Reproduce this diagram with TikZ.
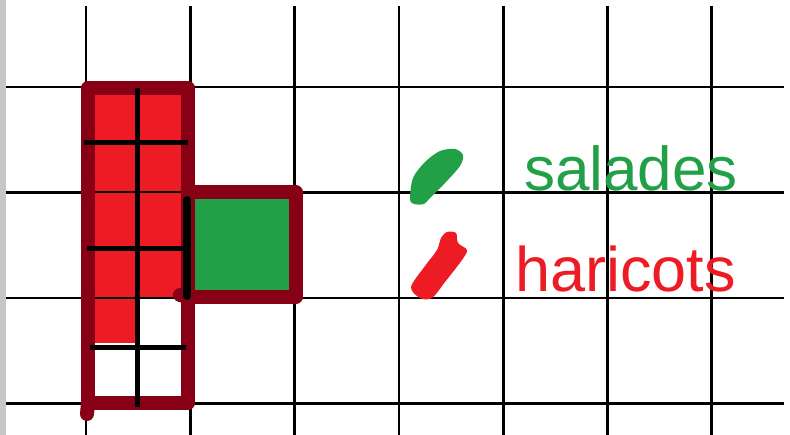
\documentclass[tikz,border=0pt]{standalone}
\usepackage{fontspec}
\setmainfont{Liberation Sans}
\usetikzlibrary{positioning}
\definecolor{bordeaux}{RGB}{136,0,21}
\definecolor{rouge}{RGB}{237,28,36}
\definecolor{vert}{RGB}{34,160,72}

\begin{document}
\begin{tikzpicture}[x=1pt, y=-1pt,
    gridline/.style={black, line width=2.8pt},
    thinline/.style={black, line width=2pt},
    subline/.style={black, line width=5pt},
    border/.style={bordeaux, line width=14pt, line join=round},
    legend/.style={inner sep=0pt, anchor=base west}]

\useasboundingbox (0,0) rectangle (790,435);
\fill[white] (0,0) rectangle (790,435);
\fill[black!22] (0,0) rectangle (6,435);

% Grid
\foreach \x in {86,190.3,294.6,398.9,503.2,607.5,711.8}
  \draw[gridline] (\x,6) -- (\x,435);
\foreach \y in {87,192.5,298,403.5}
  \draw[gridline] (6,\y) -- (784,\y);

% Beans (red) and salads (green)
\fill[rouge] (88,88) rectangle (137,343);
\fill[rouge] (137,88) rectangle (188,298);
\fill[vert] (188,192.5) rectangle (296,297);
\draw[thinline] (92,192.5) -- (184,192.5);
\draw[thinline] (92,298) -- (184,298);

% Border
\draw[border] (88,88) rectangle (188,403);
\draw[border] (188,192.5) rectangle (296,297);
\draw[border, line cap=round] (88,403) -- (87,414);
\draw[border, line cap=round] (188,297) -- (180,295);

% Half squares
\draw[subline] (137,88) -- (137,407);
\draw[subline] (84,143) -- (188,143);
\draw[subline] (87,249) -- (183,249);
\draw[subline] (90,348) -- (186,348);
\draw[black, line width=8pt, line cap=round] (187,200) -- (187,296);

% Legend
\fill[vert] plot[smooth cycle] coordinates
  {(410,199) (413,178) (425,162) (440,151) (455,149) (463,155) (460,166) (445,183) (430,198) (424,204) (414,204)};
\fill[rouge] plot[smooth cycle] coordinates
  {(411,287) (425,266) (437,250) (441,238) (447,232) (456,233) (458,243) (467,250) (462,260) (445,282) (432,298) (420,298)};
\node[legend, vert, font=\fontsize{62}{62}\selectfont] (salades) at (524,191) {salades};
\node[legend, rouge, font=\fontsize{63}{63}\selectfont] (haricots) at (515,292) {haricots};

\end{tikzpicture}
\end{document}
